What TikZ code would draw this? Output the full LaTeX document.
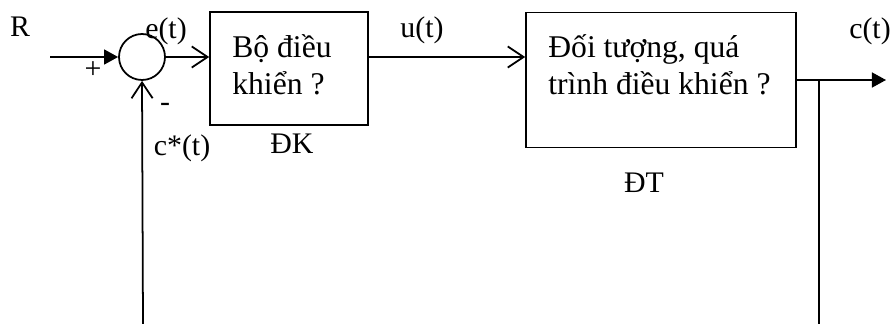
\documentclass[tikz,border=0pt]{standalone}
\usepackage{fontspec}
\setmainfont{Liberation Serif}
\usetikzlibrary{arrows.meta,positioning}
\tikzset{
  blok/.style={draw,line width=1pt,inner sep=0pt},
  lbl/.style={inner sep=0pt,font=\fontsize{17}{20}\selectfont},
  txt/.style={inner sep=0pt,anchor=base west,font=\fontsize{18}{21}\selectfont},
  sig/.style={line width=1pt,-{Straight Barb[length=9pt,width=12pt]}},
  sigf/.style={line width=1pt,-{Triangle[length=8pt,width=8.5pt]}},
}

\begin{document}
\begin{tikzpicture}[x=0.02cm,y=-0.02cm]
        \useasboundingbox (0,0) rectangle (895,324);
        \node[blok,circle,minimum size=0.92cm] (sum) at (142,57) {};
        \node[blok,minimum width=3.16cm,minimum height=2.26cm] (dk) at (289,68.5) {};
        \node[blok,minimum width=5.4cm,minimum height=2.7cm] (dt) at (661,80) {};
        \node[txt] (dk1) at (232,58) {Bộ điều};
        \node[txt] (dk2) at (232,95) {khiển ?};
        \node[txt] (dt1) at (548,58) {Đối tượng, quá};
        \node[txt] (dt2) at (548,95) {trình điều khiển ?};
        \node[lbl] (r) at (20,27) {R};
        \node[lbl] (cong) at (93,70) {+};
        \node[lbl] (tru) at (165,107) {-};
        \node[lbl] (e) at (166,31) {e(t)};
        \node[lbl] (cs) at (182,148) {c*(t)};
        \node[lbl] (dkname) at (292,144) {ĐK};
        \node[lbl] (u) at (422,30) {u(t)};
        \node[lbl] (dtname) at (644,183) {ĐT};
        \node[lbl] (c) at (870,31) {c(t)};
        \coordinate (vao) at (50,57);
        \coordinate (ra) at (886,80);
        \coordinate (nhanh) at (819,80);
        \coordinate (day1) at (819,324);
        \coordinate (day2) at (143,324);
        \draw[sigf] (vao) -- (sum.west);
        \draw[sig] (sum.east) -- (dk.west |- sum.east);
        \draw[sig] (dk.east |- sum.east) -- (dt.west |- sum.east);
        \draw[sigf] (dt.east) -- (ra);
        \draw[line width=1pt] (nhanh) -- (day1);
        \draw[sig] (day2) -- (sum.south);
      \end{tikzpicture}
\end{document}
